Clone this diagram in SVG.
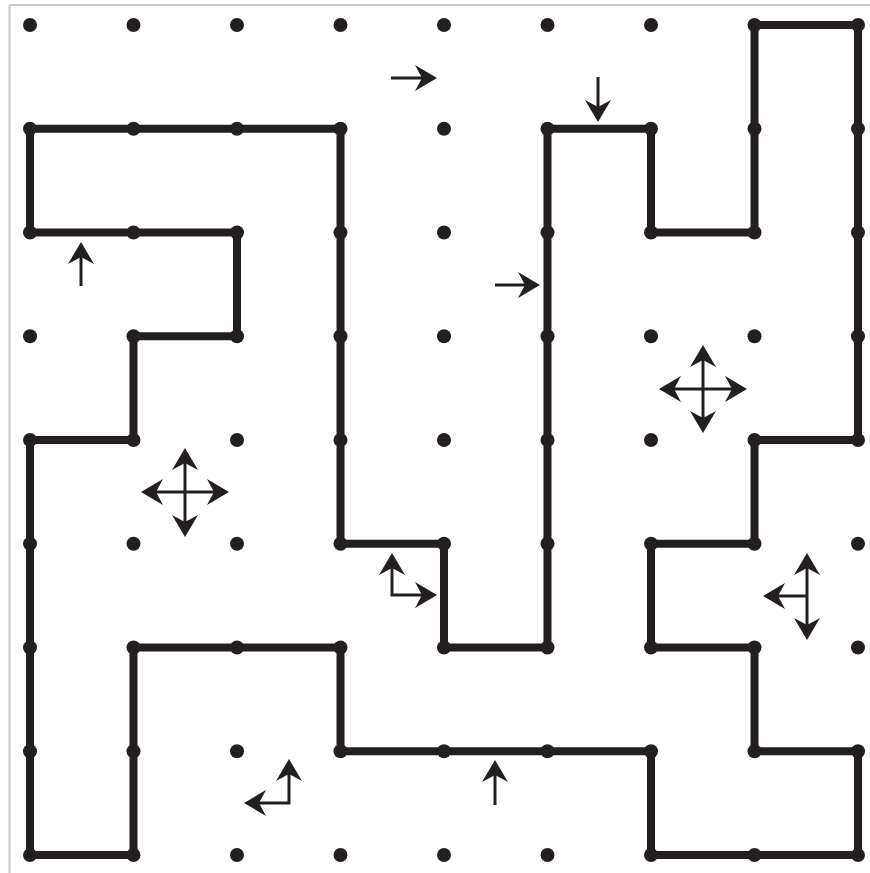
<svg xmlns="http://www.w3.org/2000/svg" width="870" height="873" viewBox="0 0 870 873">
  <style>
    .wall { fill: none; stroke: #231f20; stroke-width: 8; stroke-linejoin: miter; stroke-linecap: square; }
    .dot { fill: #231f20; }
    .arr { fill: none; stroke: #231f20; stroke-width: 3; marker-end: url(#head); }
    .arr2 { fill: none; stroke: #231f20; stroke-width: 3; marker-start: url(#head2); marker-end: url(#head2); }
    .frame { stroke: #c8c8c8; stroke-width: 2; }
  </style>
  <defs>
    <marker id="head" markerUnits="userSpaceOnUse" orient="auto" refX="0" refY="0" markerWidth="40" markerHeight="40" overflow="visible">
      <path d="M15,0 L-7,-13 L0,0 L-7,13 Z" fill="#231f20"/>
    </marker>
    <marker id="head2" markerUnits="userSpaceOnUse" orient="auto-start-reverse" refX="0" refY="0" markerWidth="40" markerHeight="40" overflow="visible">
      <path d="M15,0 L-7,-13 L0,0 L-7,13 Z" fill="#231f20"/>
    </marker>
  </defs>
  <rect width="870" height="873" fill="#ffffff"/>
  <g id="frame">
    <line class="frame" x1="9.5" y1="5" x2="9.5" y2="873"/>
    <line class="frame" x1="9.5" y1="5" x2="870" y2="5"/>
  </g>
  <g id="connectors">
    <path id="maze-loop" class="wall" d="M30,128.75 L340.5,128.75 L340.5,543.75 L444,543.75 L444,647.5 L547.5,647.5 L547.5,128.75 L651,128.75 L651,232.5 L754.5,232.5 L754.5,25 L858,25 L858,440 L754.5,440 L754.5,543.75 L651,543.75 L651,647.5 L754.5,647.5 L754.5,751.25 L858,751.25 L858,855 L651,855 L651,751.25 L340.5,751.25 L340.5,647.5 L133.5,647.5 L133.5,855 L30,855 L30,440 L133.5,440 L133.5,336.25 L237,336.25 L237,232.5 L30,232.5 Z"/>
  </g>
  <g id="dots">
    <g id="row0">
      <circle class="dot" cx="30" cy="25" r="7"/><circle class="dot" cx="133.5" cy="25" r="7"/><circle class="dot" cx="237" cy="25" r="7"/><circle class="dot" cx="340.5" cy="25" r="7"/><circle class="dot" cx="444" cy="25" r="7"/><circle class="dot" cx="547.5" cy="25" r="7"/><circle class="dot" cx="651" cy="25" r="7"/><circle class="dot" cx="754.5" cy="25" r="7"/><circle class="dot" cx="858" cy="25" r="7"/>
    </g>
    <g id="row1">
      <circle class="dot" cx="30" cy="128.75" r="7"/><circle class="dot" cx="133.5" cy="128.75" r="7"/><circle class="dot" cx="237" cy="128.75" r="7"/><circle class="dot" cx="340.5" cy="128.75" r="7"/><circle class="dot" cx="444" cy="128.75" r="7"/><circle class="dot" cx="547.5" cy="128.75" r="7"/><circle class="dot" cx="651" cy="128.75" r="7"/><circle class="dot" cx="754.5" cy="128.75" r="7"/><circle class="dot" cx="858" cy="128.75" r="7"/>
    </g>
    <g id="row2">
      <circle class="dot" cx="30" cy="232.5" r="7"/><circle class="dot" cx="133.5" cy="232.5" r="7"/><circle class="dot" cx="237" cy="232.5" r="7"/><circle class="dot" cx="340.5" cy="232.5" r="7"/><circle class="dot" cx="444" cy="232.5" r="7"/><circle class="dot" cx="547.5" cy="232.5" r="7"/><circle class="dot" cx="651" cy="232.5" r="7"/><circle class="dot" cx="754.5" cy="232.5" r="7"/><circle class="dot" cx="858" cy="232.5" r="7"/>
    </g>
    <g id="row3">
      <circle class="dot" cx="30" cy="336.25" r="7"/><circle class="dot" cx="133.5" cy="336.25" r="7"/><circle class="dot" cx="237" cy="336.25" r="7"/><circle class="dot" cx="340.5" cy="336.25" r="7"/><circle class="dot" cx="444" cy="336.25" r="7"/><circle class="dot" cx="547.5" cy="336.25" r="7"/><circle class="dot" cx="651" cy="336.25" r="7"/><circle class="dot" cx="754.5" cy="336.25" r="7"/><circle class="dot" cx="858" cy="336.25" r="7"/>
    </g>
    <g id="row4">
      <circle class="dot" cx="30" cy="440" r="7"/><circle class="dot" cx="133.5" cy="440" r="7"/><circle class="dot" cx="237" cy="440" r="7"/><circle class="dot" cx="340.5" cy="440" r="7"/><circle class="dot" cx="444" cy="440" r="7"/><circle class="dot" cx="547.5" cy="440" r="7"/><circle class="dot" cx="651" cy="440" r="7"/><circle class="dot" cx="754.5" cy="440" r="7"/><circle class="dot" cx="858" cy="440" r="7"/>
    </g>
    <g id="row5">
      <circle class="dot" cx="30" cy="543.75" r="7"/><circle class="dot" cx="133.5" cy="543.75" r="7"/><circle class="dot" cx="237" cy="543.75" r="7"/><circle class="dot" cx="340.5" cy="543.75" r="7"/><circle class="dot" cx="444" cy="543.75" r="7"/><circle class="dot" cx="547.5" cy="543.75" r="7"/><circle class="dot" cx="651" cy="543.75" r="7"/><circle class="dot" cx="754.5" cy="543.75" r="7"/><circle class="dot" cx="858" cy="543.75" r="7"/>
    </g>
    <g id="row6">
      <circle class="dot" cx="30" cy="647.5" r="7"/><circle class="dot" cx="133.5" cy="647.5" r="7"/><circle class="dot" cx="237" cy="647.5" r="7"/><circle class="dot" cx="340.5" cy="647.5" r="7"/><circle class="dot" cx="444" cy="647.5" r="7"/><circle class="dot" cx="547.5" cy="647.5" r="7"/><circle class="dot" cx="651" cy="647.5" r="7"/><circle class="dot" cx="754.5" cy="647.5" r="7"/><circle class="dot" cx="858" cy="647.5" r="7"/>
    </g>
    <g id="row7">
      <circle class="dot" cx="30" cy="751.25" r="7"/><circle class="dot" cx="133.5" cy="751.25" r="7"/><circle class="dot" cx="237" cy="751.25" r="7"/><circle class="dot" cx="340.5" cy="751.25" r="7"/><circle class="dot" cx="444" cy="751.25" r="7"/><circle class="dot" cx="547.5" cy="751.25" r="7"/><circle class="dot" cx="651" cy="751.25" r="7"/><circle class="dot" cx="754.5" cy="751.25" r="7"/><circle class="dot" cx="858" cy="751.25" r="7"/>
    </g>
    <g id="row8">
      <circle class="dot" cx="30" cy="855" r="7"/><circle class="dot" cx="133.5" cy="855" r="7"/><circle class="dot" cx="237" cy="855" r="7"/><circle class="dot" cx="340.5" cy="855" r="7"/><circle class="dot" cx="444" cy="855" r="7"/><circle class="dot" cx="547.5" cy="855" r="7"/><circle class="dot" cx="651" cy="855" r="7"/><circle class="dot" cx="754.5" cy="855" r="7"/><circle class="dot" cx="858" cy="855" r="7"/>
    </g>
  </g>
  <g id="arrows">
    <g id="arrow-top-right"><path class="arr" d="M391,78 L422,78"/></g>
    <g id="arrow-top-down"><path class="arr" d="M598,77 L598,107"/></g>
    <g id="arrow-left-up"><path class="arr" d="M81,286 L81,257"/></g>
    <g id="arrow-mid-right"><path class="arr" d="M495,285 L525,285"/></g>
    <g id="cross-left">
      <path class="arr" d="M185,492 L156,492"/>
      <path class="arr" d="M185,492 L214,492"/>
      <path class="arr" d="M185,492 L185,463"/>
      <path class="arr" d="M185,492 L185,522"/>
    </g>
    <g id="cross-right">
      <path class="arr" d="M703,389 L674,389"/>
      <path class="arr" d="M703,389 L732,389"/>
      <path class="arr" d="M703,389 L703,360"/>
      <path class="arr" d="M703,389 L703,418"/>
    </g>
    <g id="corner-center"><path class="arr2" d="M392,568 L392,595 L422,595"/></g>
    <g id="tee-right">
      <path class="arr2" d="M807,568 L807,625"/>
      <path class="arr" d="M807,596 L778,596"/>
    </g>
    <g id="corner-bottom"><path class="arr2" d="M289,774 L289,803 L259,803"/></g>
    <g id="arrow-bottom-up"><path class="arr" d="M495,805 L495,775"/></g>
  </g>
</svg>
